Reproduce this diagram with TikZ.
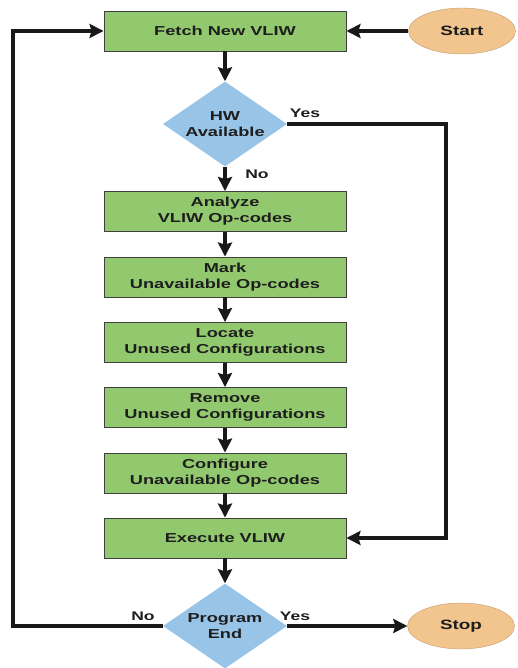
\documentclass[tikz,border=0pt]{standalone}
\usepackage{fontspec}
\setmainfont{Liberation Sans}[FakeStretch=1.4]
\usetikzlibrary{shapes.geometric,arrows.meta}
\definecolor{boxgreen}{RGB}{146,201,111}
\definecolor{dblue}{RGB}{152,196,232}
\definecolor{eorange}{RGB}{242,196,142}
\definecolor{txt}{RGB}{30,30,30}
\begin{document}
\begin{tikzpicture}[x=1pt,y=-1pt,
  every node/.style={font=\fontsize{13}{16}\selectfont\bfseries, text=txt},
  procbox/.style={draw=black!75, line width=0.9pt, fill=boxgreen, minimum width=242pt, minimum height=40pt, align=center, inner sep=0pt},
  decide/.style={shape=diamond, fill=dblue, minimum width=124pt, minimum height=85pt, aspect=1.46, inner sep=0pt, align=center},
  term/.style={shape=ellipse, fill=eorange, draw=eorange!80!black, line width=0.4pt, minimum width=107pt, minimum height=46pt, inner sep=0pt, font=\fontsize{13.5}{16}\selectfont\bfseries},
  flow/.style={line width=3.6pt, draw=black!90, -{Stealth[length=14pt,width=14pt,inset=2pt]}},
  lab/.style={font=\fontsize{12.5}{14}\selectfont\bfseries}]
\useasboundingbox (0,0) rectangle (518,668);
\node[procbox] (fetch) at (225,31) {Fetch New VLIW};
\node[term] (start) at (462,31) {Start};
\node[decide] (hw) at (225,124) {HW\\Available};
\node[procbox] (analyze) at (225,211.5) {Analyze\\VLIW Op-codes};
\node[procbox] (mark) at (225,277) {Mark\\Unavailable Op-codes};
\node[procbox] (locate) at (225,342.5) {Locate\\Unused Configurations};
\node[procbox] (remove) at (225,407.5) {Remove\\Unused Configurations};
\node[procbox] (config) at (225,473) {Configure\\Unavailable Op-codes};
\node[procbox] (exec) at (225,538) {Execute VLIW};
\node[decide] (pend) at (225,626) {Program\\End};
\node[term] (stop) at (461,626) {Stop};
\coordinate (lt) at (13,31);
\coordinate (lb) at (13,626);
\coordinate (rt) at (446,124);
\coordinate (rb) at (446,538);
\draw[flow] (start) -- (fetch);
\draw[flow] (fetch) -- (hw);
\draw[flow] (hw) -- (analyze);
\draw[flow] (analyze) -- (mark);
\draw[flow] (mark) -- (locate);
\draw[flow] (locate) -- (remove);
\draw[flow] (remove) -- (config);
\draw[flow] (config) -- (exec);
\draw[flow] (exec) -- (pend);
\draw[flow] (pend.east) -- (stop);
\draw[flow] (hw.east) -- (rt) -- (rb) -- (exec.east);
\draw[flow] (pend.west) -- (lb) -- (lt) -- (fetch.west);
\node[lab] (yes1) at (305,113) {Yes};
\node[lab] (no1) at (257,174) {No};
\node[lab] (no2) at (143,616) {No};
\node[lab] (yes2) at (295,616) {Yes};
\end{tikzpicture}
\end{document}
